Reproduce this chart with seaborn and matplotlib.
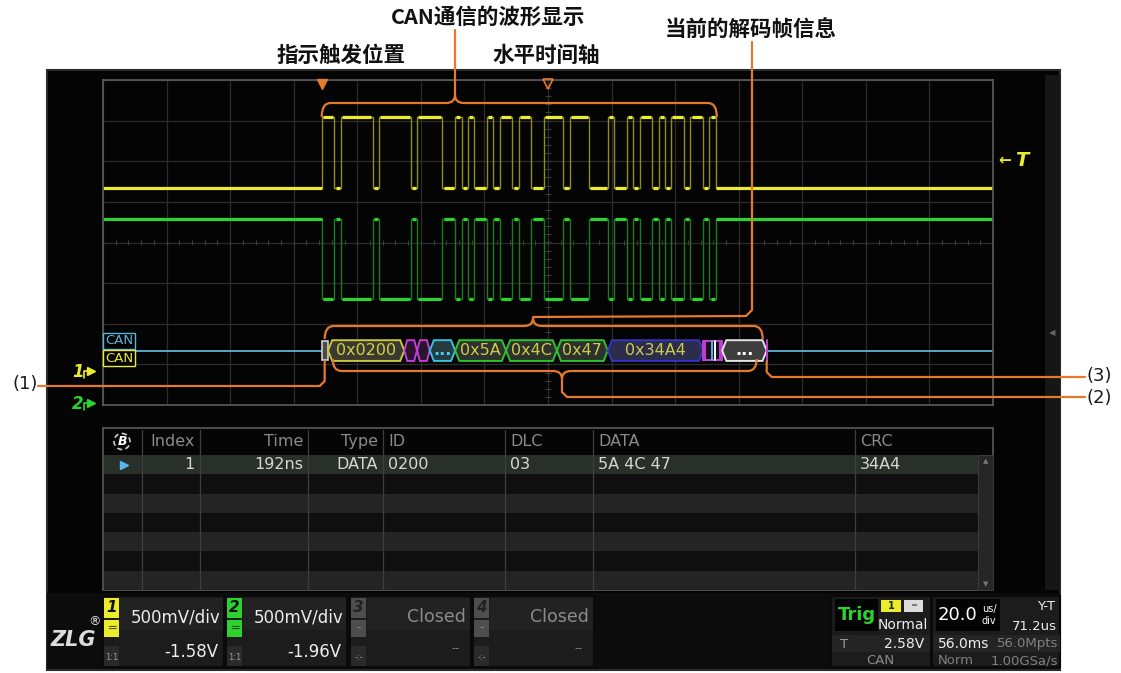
import numpy as np
import pandas as pd
import matplotlib
matplotlib.use("Agg")
import matplotlib.pyplot as plt
from matplotlib.patches import Polygon, Rectangle, PathPatch, Circle
from matplotlib.path import Path
import seaborn as sns

# ---- values ----
time_per_div_us = 20.0
sof_time_us = -71.2
bit_time_us = 2.0
# CAN frame bits, SOF .. ACK slot (0 = dominant, stuff bits included)
frame_fields = ["0", "010000010000", "01", "00", "0011",
                "01011010", "01001100", "01000111",
                "011010010100100", "1", "0"]
ch1_levels = [1.35, 3.08]     # recessive, dominant (div)
ch2_levels = [0.57, -1.40]
bus_level = -2.66
trig_level = 2.03

dec_labels = ["", "0x0200", "", "", "...", "0x5A", "0x4C", "0x47", "0x34A4", "", "..."]
dec_start = [0, 1, 13, 15, 17, 21, 29, 37, 45, 60, 63]
dec_len = [1, 12, 2, 2, 4, 8, 8, 8, 15, 3, 7]
dec_kind = ["sof", "id", "ctl", "ctl", "dlc", "data", "data", "data", "crc", "ack", "eof"]

table_header = ["Index", "Time", "Type", "ID", "DLC", "DATA", "CRC"]
table_row = ["1", "192ns", "DATA", "0200", "03", "5A 4C 47", "34A4"]

ch_names = ["1", "2", "3", "4"]
ch_scales = ["500mV/div", "500mV/div", "Closed", "Closed"]
ch_offsets = ["-1.58V", "-1.96V", "--", "--"]

# ---- layout (pixels) ----
W, H = 1121, 673
GX0, GX1, GY0, GY1 = 103, 993, 80, 405
tmin, tmax = -7 * time_per_div_us, 7 * time_per_div_us

YEL, YEL_DIM = "#ecec2e", "#8c8c22"
GRN, GRN_DIM = "#2ed22e", "#1d7a1d"
ORANGE = "#e47a2a"
CYAN = "#5ab4dc"
MAG = "#c23ed6"
CJK = ["Noto Sans CJK SC", "DejaVu Sans"]


def px(t):
    return GX0 + (t - tmin) / (tmax - tmin) * (GX1 - GX0)


def py(v):
    return (GY0 + GY1) / 2 - v * (GY1 - GY0) / 8


sns.set_style("dark")
plt.rcParams["font.family"] = ["DejaVu Sans"]

fig = plt.figure(figsize=(W / 100, H / 100), dpi=100)
fig.patch.set_facecolor("white")

bg = fig.add_axes([0, 0, 1, 1], zorder=0)
bg.set_xlim(0, W)
bg.set_ylim(H, 0)
bg.axis("off")

ax = fig.add_axes([GX0 / W, 1 - GY1 / H, (GX1 - GX0) / W, (GY1 - GY0) / H], zorder=1)
ax.set_facecolor("none")

fg = fig.add_axes([0, 0, 1, 1], zorder=2)
fg.set_xlim(0, W)
fg.set_ylim(H, 0)
fg.patch.set_alpha(0)
fg.axis("off")

# screen background
bg.add_patch(Rectangle((47, 70), 1013, 600, fc="#040404", ec="#2a2a2a", lw=1.5))
bg.add_patch(Rectangle((1045, 75), 15, 515, fc="#161616", ec="none"))
bg.text(1052, 333, "◀", color="#666666", fontsize=6, ha="center", va="center")

# ---- waveform grid ----
ax.set_xlim(tmin, tmax)
ax.set_ylim(-4, 4)
ax.set_xticks(np.arange(tmin, tmax + 1, time_per_div_us))
ax.set_yticks(np.arange(-4, 5, 1))
ax.grid(True, color="#2c2c2c", lw=0.9)
ax.tick_params(length=0, labelbottom=False, labelleft=False)
for sp in ax.spines.values():
    sp.set_color("#5c5c5c")
    sp.set_linewidth(1.2)
ax.vlines(np.arange(tmin, tmax, time_per_div_us / 5), -0.07, 0.07, color="#3c3c3c", lw=0.8)
ax.hlines(np.arange(-4, 4, 0.2), -0.9, 0.9, color="#3c3c3c", lw=0.8)

# ---- traces ----
bits = "".join(frame_fields)
edges = sof_time_us + bit_time_us * np.arange(len(bits) + 1)


def step_points(levels):
    t = [tmin, edges[0]]
    v = [levels[0], levels[0]]
    for i, b in enumerate(bits):
        lv = levels[1 - int(b)]
        t += [edges[i], edges[i + 1]]
        v += [lv, lv]
    t += [edges[-1], tmax]
    v += [levels[0], levels[0]]
    return t, v


def runs(levels):
    out = [(tmin, edges[0], levels[0], 0.0)]
    i = 0
    while i < len(bits):
        j = i
        while j < len(bits) and bits[j] == bits[i]:
            j += 1
        out.append((edges[i], edges[j], levels[1 - int(bits[i])], 0.35))
        i = j
    out.append((edges[-1], tmax, levels[0], 0.0))
    return out


frames = []
for name, lv in [("CH1", ch1_levels), ("CH2", ch2_levels)]:
    t, v = step_points(lv)
    frames.append(pd.DataFrame({"t": t, "v": v, "ch": name}))
traces = pd.concat(frames, ignore_index=True)

sns.lineplot(data=traces, x="t", y="v", hue="ch", units="ch", estimator=None,
             sort=False, palette=[YEL_DIM, GRN_DIM], lw=1.0, legend=False, ax=ax)
for lv, col in [(ch1_levels, YEL), (ch2_levels, GRN)]:
    for a, b, y, s in runs(lv):
        ax.hlines(y, a + s, b - s, color=col, lw=2.3)
ax.set_xlabel("")
ax.set_ylabel("")

# ---- decoded bus ----
h = 0.255
dec_end = sof_time_us + (dec_start[-1] + dec_len[-1]) * bit_time_us
ax.plot([tmin, edges[0]], [bus_level, bus_level], color=CYAN, lw=1.3)
ax.plot([dec_end, tmax], [bus_level, bus_level], color=CYAN, lw=1.3)

styles = {
    "id": ("#c8c83a", "#3a3a32", "#d4d044"),
    "ctl": (MAG, "#2a142e", "white"),
    "dlc": ("#38c2dc", "#263a42", "#48d0ea"),
    "data": ("#2fc22f", "#2e322e", "#cccc48"),
    "crc": ("#3434c4", "#2c2c4c", "#cccc48"),
    "eof": ("#e4e4e4", "#3e3e3e", "white"),
}


def hexagon(x0, x1, yc, tip, ec, fc):
    pts = [(x0, yc), (x0 + tip, yc + h), (x1 - tip, yc + h), (x1, yc),
           (x1 - tip, yc - h), (x0 + tip, yc - h)]
    ax.add_patch(Polygon(pts, closed=True, fc=fc, ec=ec, lw=1.4, zorder=4))


for lab, s, n, kind in zip(dec_labels, dec_start, dec_len, dec_kind):
    x0 = sof_time_us + s * bit_time_us
    x1 = x0 + n * bit_time_us
    if kind == "sof":
        ax.add_patch(Rectangle((x0 + 0.1, bus_level - h * 0.9), x1 - x0 - 0.2, 1.8 * h,
                               fc="#4a4a4a", ec="#d0d0d0", lw=1.2, zorder=4))
        continue
    if kind == "ack":
        ax.add_patch(Rectangle((x0, bus_level - h * 0.95), x1 - x0, 1.9 * h,
                               fc="#1a0c1e", ec=MAG, lw=1.4, zorder=4))
        for f, c in [(0.12, MAG), (0.45, CYAN), (0.6, "white"), (0.88, MAG)]:
            ax.plot([x0 + f * (x1 - x0)] * 2, [bus_level - h * 0.9, bus_level + h * 0.9],
                    color=c, lw=1.4, zorder=5)
        continue
    ec, fc, tc = styles[kind]
    tip = 0.9 if kind == "ctl" else 1.3
    hexagon(x0, x1, bus_level, tip, ec, fc)
    if lab:
        ax.text((x0 + x1) / 2, bus_level - 0.01, lab, ha="center", va="center",
                fontsize=11.5, color=tc, zorder=6,
                fontweight="bold" if lab == "..." else "normal")
ax.plot([dec_end, dec_end], [bus_level - h, bus_level + h], color=MAG, lw=1.4, zorder=5)

# channel / trigger markers outside the grid
fg.text(105, 341, "CAN", color=CYAN, fontsize=9.5, va="center",
        bbox=dict(boxstyle="square,pad=0.12", fc="black", ec=CYAN, lw=1))
fg.text(105, 358, "CAN", color=YEL, fontsize=9.5, va="center",
        bbox=dict(boxstyle="square,pad=0.12", fc="black", ec=YEL, lw=1))
fg.text(72, 372, "1", color=YEL, fontsize=12, fontweight="bold", style="italic", va="center")
fg.plot([91], [371], marker=">", color=YEL, ms=6)
fg.plot([84, 84, 89], [378, 371, 371], color=YEL, lw=1.2)
fg.text(72, 404, "2", color=GRN, fontsize=12, fontweight="bold", style="italic", va="center")
fg.plot([91], [403], marker=">", color=GRN, ms=6)
fg.plot([84, 84, 89], [410, 403, 403], color=GRN, lw=1.2)
fg.text(998, py(trig_level), "←", color=YEL, fontsize=11, fontweight="bold", va="center")
fg.text(1015, py(trig_level), "T", color=YEL, fontsize=14, fontweight="bold",
        style="italic", va="center")
fg.plot([px(sof_time_us)], [84], marker="v", color=ORANGE, ms=7)
fg.plot([px(0)], [84], marker="v", mfc="none", mec=ORANGE, mew=1.2, ms=7)


# ---- annotations ----
def brace(x0, x1, y, xc, tip, end, r=9):
    st = np.sign(tip - y)
    verts = [(x0, end), (x0, y), (x0 + r, y),
             (xc - r, y), (xc, y), (xc, y + st * r * 0.9),
             (xc, y), (xc + r, y),
             (x1 - r, y), (x1, y), (x1, end)]
    codes = [Path.MOVETO, Path.CURVE3, Path.CURVE3,
             Path.LINETO, Path.CURVE3, Path.CURVE3,
             Path.CURVE3, Path.CURVE3,
             Path.LINETO, Path.CURVE3, Path.CURVE3]
    fg.add_patch(PathPatch(Path(verts, codes), fc="none", ec=ORANGE, lw=1.6))


def leader(points):
    fg.plot([p[0] for p in points], [p[1] for p in points], color=ORANGE, lw=1.6,
            solid_joinstyle="round")


f_x0, f_x1 = px(edges[0]), px(edges[-1])
d_x0, d_x1 = px(sof_time_us), px(dec_end)

brace(f_x0, f_x1 + 1, 103, 455, 95, 117)
leader([(455, 96), (455, 30)])

brace(d_x0 + 3, d_x1 - 4, 326, 533, 317, 339)
leader([(533, 317), (746, 316), (752, 310), (752, 42)])

brace(d_x0 + 11, d_x1 - 10, 371, 562, 380, 359)
leader([(562, 380), (562, 392), (567, 397), (1085, 397)])

leader([(d_x0 + 3, 361), (d_x0 + 3, 381), (d_x0 - 2, 386), (38, 386)])
leader([(d_x1, 361), (d_x1, 372), (d_x1 + 5, 377), (1085, 377)])

fg.text(38, 384, "(1)", ha="right", va="center", fontsize=13, color="#1a1a1a")
fg.text(1087, 376, "(3)", ha="left", va="center", fontsize=13, color="#1a1a1a")
fg.text(1087, 398, "(2)", ha="left", va="center", fontsize=13, color="#1a1a1a")

for txt, x, y in [("CAN通信的波形显示", 488, 17), ("指示触发位置", 341, 55),
                  ("水平时间轴", 546, 55), ("当前的解码帧信息", 751, 30)]:
    fg.text(x, y, txt, ha="center", va="center", fontsize=15.5, fontweight="bold",
            family=CJK, color="#111111")

# ---- decode table ----
TX0, TX1, TY0, TY1 = 103, 993, 428, 590
hdr_h = 27
row_h = (TY1 - TY0 - hdr_h) / 7
col_sep = [142, 200, 308, 383, 505, 593, 855, 978]
right_aligned = [True, True, True, False, False, False, False]

bg.add_patch(Rectangle((TX0, TY0), TX1 - TX0, TY1 - TY0, fc="#050505", ec="#5a5a5a", lw=1.2))
for r in range(7):
    y0 = TY0 + hdr_h + r * row_h
    c = "#293029" if r == 0 else ("#0f0f0f" if r % 2 else "#242424")
    bg.add_patch(Rectangle((TX0 + 1, y0), col_sep[-1] - TX0 - 1, row_h, fc=c, ec="none"))
bg.add_patch(Rectangle((col_sep[-1], TY0 + hdr_h), TX1 - col_sep[-1], TY1 - TY0 - hdr_h,
                       fc="#262626", ec="#3a3a3a", lw=0.8))
bg.text(985.5, TY0 + hdr_h + 6, "▲", color="#777777", fontsize=5, ha="center", va="center")
bg.text(985.5, TY1 - 6, "▼", color="#777777", fontsize=5, ha="center", va="center")
for x in col_sep[:-1]:
    bg.plot([x, x], [TY0 + 2, TY1 - 1], color="#3e3e3e", lw=0.9)

hy = TY0 + hdr_h / 2
ry = TY0 + hdr_h + row_h / 2
for i, (hd, val) in enumerate(zip(table_header, table_row)):
    if right_aligned[i]:
        x, ha = col_sep[i + 1] - 5, "right"
    else:
        x, ha = col_sep[i] + 5, "left"
    bg.text(x, hy, hd, ha=ha, va="center", fontsize=11.5, color="#8a8a8a")
    bg.text(x, ry, val, ha=ha, va="center", fontsize=11.5, color="#d6d6d6")
bg.add_patch(Circle((122, hy), 8, fc="none", ec="#cfcfcf", lw=1.2, ls=(0, (3, 2))))
bg.text(122, hy, "B", ha="center", va="center", fontsize=9, fontweight="bold",
        style="italic", color="white")
bg.plot([124], [ry], marker=">", color="#58b8f0", ms=6)

# ---- bottom status bar ----
bg.add_patch(Rectangle((47, 593), 1013, 76, fc="#0c0c0c", ec="none"))
bg.text(73, 640, "ZLG", ha="center", va="center", fontsize=15, fontweight="bold",
        style="italic", color="#dcdcdc")
bg.text(94, 622, "®", ha="center", va="center", fontsize=9, color="#dcdcdc")

ch_cols = [YEL, GRN, "#4e4e4e", "#4e4e4e"]
ch_x = [103, 226, 350, 473]
for i in range(4):
    x0 = ch_x[i]
    x1 = x0 + 121
    active = i < 2
    bg.add_patch(Rectangle((x0, 596), x1 - x0, 71, fc="#1c1c1c", ec="#0a0a0a", lw=1.5))
    bg.add_patch(Rectangle((x0 + 17, 598), x1 - x0 - 18, 32, fc="#222222", ec="none"))
    bg.add_patch(Rectangle((x0 + 1, 598), 15, 20, fc=ch_cols[i], ec="none"))
    bg.text(x0 + 8.5, 608, ch_names[i], ha="center", va="center", fontsize=11,
            fontweight="bold", style="italic", color="#111111" if active else "#222222")
    bg.add_patch(Rectangle((x0 + 1, 620), 15, 17, fc=ch_cols[i], ec="none"))
    bg.text(x0 + 8.5, 628, "═" if active else "-", ha="center", va="center", fontsize=9,
            color="#555500" if i == 0 else ("#0a5a0a" if i == 1 else "#888888"))
    bg.add_patch(Rectangle((x0 + 1, 646), 15, 20, fc="#2a2a2a", ec="none"))
    bg.text(x0 + 8.5, 658, "1:1" if active else "-:-", ha="center", va="center",
            fontsize=6, color="#9a9a9a")
    if active:
        bg.text(x0 + 28, 617, ch_scales[i], ha="left", va="center", fontsize=12, color="#ececec")
        bg.text(x1 - 6, 652, ch_offsets[i], ha="right", va="center", fontsize=12, color="#ececec")
    else:
        bg.text(x1 - 5, 617, ch_scales[i], ha="right", va="center", fontsize=12.5, color="#8c8c8c")
        bg.text(x1 - 12, 648, ch_offsets[i], ha="right", va="center", fontsize=8, color="#8c8c8c")

# trigger panel
bg.add_patch(Rectangle((831, 596), 100, 71, fc="#1c1c1c", ec="#0a0a0a", lw=1.5))
bg.add_patch(Rectangle((835, 599), 43, 32, fc="#030303", ec="none"))
bg.text(856.5, 615, "Trig", ha="center", va="center", fontsize=13, fontweight="bold",
        color=GRN)
bg.add_patch(Rectangle((881, 600), 20, 12, fc=YEL, ec="none"))
bg.text(891, 606, "1", ha="center", va="center", fontsize=7, fontweight="bold", color="#222222")
bg.add_patch(Rectangle((904, 600), 19, 12, fc="#dcdcdc", ec="none"))
bg.text(913.5, 606, "═", ha="center", va="center", fontsize=6, color="#555555")
bg.text(903, 625, "Normal", ha="center", va="center", fontsize=10, color="#eeeeee")
bg.add_patch(Rectangle((832, 635), 98, 17, fc="#242424", ec="none"))
bg.text(840, 644, "T", ha="left", va="center", fontsize=9.5, color="#9a9a9a")
bg.text(924, 644, "2.58V", ha="right", va="center", fontsize=10, color="#eeeeee")
bg.text(880, 661, "CAN", ha="center", va="center", fontsize=9.5, color="#8a8a8a")

# timebase panel
bg.add_patch(Rectangle((932, 596), 128, 71, fc="#1c1c1c", ec="#0a0a0a", lw=1.5))
bg.add_patch(Rectangle((936, 599), 64, 32, fc="#030303", ec="none"))
bg.text(938, 615, "20.0", ha="left", va="center", fontsize=13, color="white")
bg.text(989, 609, "us/", ha="center", va="center", fontsize=7, color="white")
bg.text(989, 621, "div", ha="center", va="center", fontsize=7, color="white")
bg.text(1055, 607, "Y-T", ha="right", va="center", fontsize=9.5, color="#eeeeee")
bg.text(1057, 627, "71.2us", ha="right", va="center", fontsize=9.5, color="#eeeeee")
bg.add_patch(Rectangle((933, 635), 127, 17, fc="#242424", ec="none"))
bg.text(938, 644, "56.0ms", ha="left", va="center", fontsize=10, color="#eeeeee")
bg.text(1058, 644, "56.0Mpts", ha="right", va="center", fontsize=9.5, color="#808080")
bg.text(938, 661, "Norm", ha="left", va="center", fontsize=9.5, color="#808080")
bg.text(1058, 661, "1.00GSa/s", ha="right", va="center", fontsize=9.5, color="#808080")

fig.savefig("out.png", dpi=100, facecolor="white")
